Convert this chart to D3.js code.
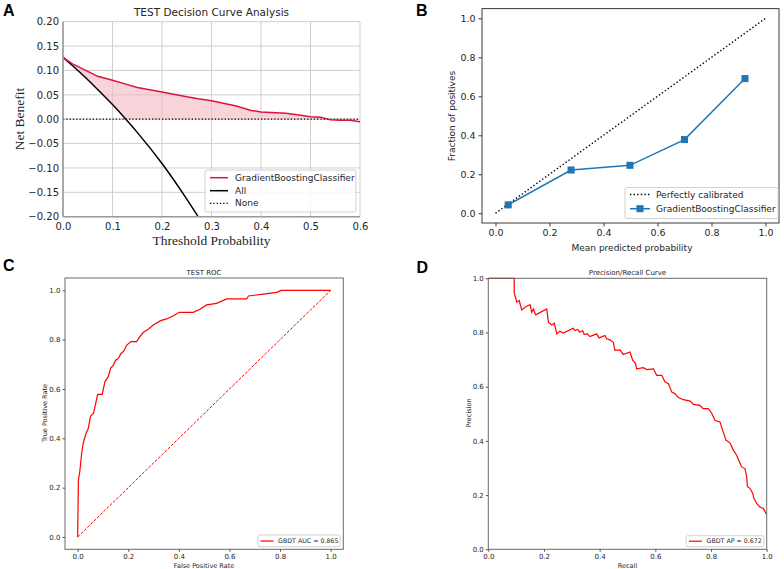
<!DOCTYPE html>
<html>
<head>
<meta charset="utf-8">
<script src="https://cdn.jsdelivr.net/npm/d3@7"></script>
<style>
  body { margin: 0; background: #fff; }
  svg text { font-family: "DejaVu Sans", sans-serif; fill: #262626; }
  .serif { font-family: "Liberation Serif", "Times New Roman", serif !important; }
  .tag { font-family: "Liberation Sans", Arial, sans-serif !important; font-weight: bold; fill: #000 !important; }
</style>
</head>
<body>
<svg id="fig" width="784" height="569"></svg>
<script>
// ---- A: decision curve ----
var dcaThresholds = [0, 0.02, 0.05, 0.07, 0.1, 0.127, 0.15, 0.2, 0.25, 0.273, 0.3, 0.35, 0.38, 0.4, 0.45, 0.48, 0.5, 0.52, 0.54, 0.56, 0.58, 0.6];
var dcaModel = [0.127, 0.113, 0.098, 0.088, 0.080, 0.072, 0.065, 0.056, 0.046, 0.042, 0.038, 0.027, 0.018, 0.015, 0.012, 0.008, 0.005, 0.004, -0.001, -0.002, -0.002, -0.005];
var dcaAll = [0.127, 0.109, 0.081, 0.061, 0.030, 0.0, -0.027, -0.091, -0.164, -0.200, null, null, null, null, null, null, null, null, null, null, null, null];
var dcaNone = [0, 0];
var dcaNoneT = [0, 0.6];
var dcaXTicks = [0, 0.1, 0.2, 0.3, 0.4, 0.5, 0.6];
var dcaYTicks = [-0.2, -0.15, -0.1, -0.05, 0, 0.05, 0.1, 0.15, 0.2];

// ---- B: calibration ----
var calMean = [0.047, 0.280, 0.498, 0.700, 0.924];
var calFrac = [0.043, 0.222, 0.246, 0.378, 0.691];
var unitTicks = [0, 0.2, 0.4, 0.6, 0.8, 1.0];

// ---- C: ROC ----
var rocFpr = [0, 0.003, 0.009, 0.016, 0.022, 0.033, 0.042, 0.051, 0.062, 0.071, 0.079, 0.097, 0.108, 0.121, 0.130, 0.141, 0.150, 0.161, 0.170, 0.183, 0.194, 0.211, 0.233, 0.246, 0.260, 0.279, 0.299, 0.328, 0.352, 0.378, 0.402, 0.457, 0.483, 0.510, 0.549, 0.589, 0.668, 0.675, 0.734, 0.787, 0.804, 1.0];
var rocTpr = [0, 0.23, 0.27, 0.34, 0.38, 0.42, 0.44, 0.49, 0.50, 0.54, 0.578, 0.578, 0.63, 0.65, 0.684, 0.697, 0.717, 0.724, 0.742, 0.755, 0.778, 0.792, 0.792, 0.812, 0.83, 0.842, 0.859, 0.877, 0.884, 0.897, 0.911, 0.911, 0.923, 0.941, 0.947, 0.965, 0.965, 0.977, 0.985, 0.992, 1.0, 1.0];

// ---- D: precision / recall ----
var prRecall = [0, 0.093, 0.093, 0.102, 0.111, 0.12, 0.132, 0.15, 0.156, 0.162, 0.17, 0.21, 0.216, 0.228, 0.237, 0.246, 0.257, 0.269, 0.305, 0.311, 0.321, 0.329, 0.339, 0.344, 0.356, 0.365, 0.389, 0.398, 0.419, 0.425, 0.437, 0.449, 0.455, 0.473, 0.485, 0.509, 0.519, 0.528, 0.533, 0.557, 0.569, 0.593, 0.605, 0.623, 0.635, 0.647, 0.659, 0.671, 0.683, 0.701, 0.725, 0.737, 0.760, 0.772, 0.790, 0.802, 0.814, 0.832, 0.842, 0.854, 0.868, 0.880, 0.892, 0.902, 0.910, 0.922, 0.928, 0.931, 0.940, 0.950, 0.954, 0.964, 0.974, 0.988, 0.994, 1.0];
var prPrecision = [1, 1, 0.948, 0.912, 0.918, 0.883, 0.893, 0.903, 0.875, 0.887, 0.865, 0.887, 0.838, 0.828, 0.834, 0.795, 0.805, 0.798, 0.816, 0.807, 0.811, 0.801, 0.807, 0.793, 0.795, 0.785, 0.795, 0.780, 0.789, 0.777, 0.773, 0.764, 0.734, 0.736, 0.719, 0.728, 0.697, 0.687, 0.666, 0.670, 0.663, 0.666, 0.642, 0.642, 0.617, 0.611, 0.580, 0.574, 0.560, 0.552, 0.547, 0.535, 0.531, 0.519, 0.519, 0.503, 0.476, 0.470, 0.439, 0.402, 0.393, 0.366, 0.347, 0.323, 0.304, 0.298, 0.267, 0.231, 0.225, 0.206, 0.188, 0.169, 0.157, 0.151, 0.139, 0.129];

var svg = d3.select("#fig");
var f1 = d3.format(".1f"), f2 = d3.format(".2f");

function zip(xs, ys) {
    return xs.map(function(v, i){ return {x: v, y: ys[i]}; });
}

// draw a legend box; rows = [{label, draw(g, y)}]
function legend(box, rows, fs) {
    var g = svg.append("g");
    g.append("rect")
        .attr("x", box[0]).attr("y", box[1])
        .attr("width", box[2]).attr("height", box[3])
        .attr("rx", 2)
        .attr("fill", "#fff").attr("fill-opacity", 0.85)
        .attr("stroke", "#d0d0d0");
    rows.forEach(function(r){
        r.draw(g, r.y);
        g.append("text").attr("x", r.tx).attr("y", r.y)
            .attr("dy", "0.35em").style("font-size", fs + "px").text(r.label);
    });
}

// ================= A =================
(function(){
    var x = d3.scaleLinear().domain([0, 0.6]).range([63, 360]);
    var y = d3.scaleLinear().domain([-0.2, 0.2]).range([216.7, 21.7]);
    var g = svg.append("g");

    g.append("clipPath").attr("id", "clipA").append("rect")
        .attr("x", 63).attr("y", 21.7).attr("width", 297).attr("height", 195);

    // grid
    g.append("g").selectAll("line").data(dcaXTicks).enter().append("line")
        .attr("x1", x).attr("x2", x).attr("y1", 21.7).attr("y2", 216.7)
        .attr("stroke", "#cfcfcf").attr("stroke-width", 1);
    g.append("g").selectAll("line").data(dcaYTicks).enter().append("line")
        .attr("y1", y).attr("y2", y).attr("x1", 63).attr("x2", 360)
        .attr("stroke", "#cfcfcf").attr("stroke-width", 1);

    var pts = dcaThresholds.map(function(t, i){
        var lo = dcaAll[i] == null ? 0 : Math.max(dcaAll[i], 0);
        return {t: t, m: dcaModel[i], a: dcaAll[i], lo: lo};
    });

    var area = d3.area()
        .defined(function(d){ return d.m >= d.lo; })
        .x(function(d){ return x(d.t); })
        .y0(function(d){ return y(d.lo); })
        .y1(function(d){ return y(d.m); });
    g.append("path").datum(pts).attr("d", area)
        .attr("fill", "#f4b6c2").attr("fill-opacity", 0.6);

    var cg = g.append("g").attr("clip-path", "url(#clipA)");
    cg.append("path").datum(zip(dcaNoneT, dcaNone))
        .attr("d", d3.line().x(function(d){ return x(d.x); }).y(function(d){ return y(d.y); }))
        .attr("stroke", "#000").attr("stroke-width", 1.3).attr("stroke-dasharray", "1.3,2")
        .attr("fill", "none");
    cg.append("path").datum(pts.filter(function(d){ return d.a != null; }))
        .attr("d", d3.line().x(function(d){ return x(d.t); }).y(function(d){ return y(d.a); }).curve(d3.curveMonotoneX))
        .attr("stroke", "#000").attr("stroke-width", 1.5).attr("fill", "none");
    cg.append("path").datum(pts)
        .attr("d", d3.line().x(function(d){ return x(d.t); }).y(function(d){ return y(d.m); }))
        .attr("stroke", "#dc143c").attr("stroke-width", 1.5).attr("fill", "none");

    // spines
    g.append("line").attr("x1", 63).attr("x2", 63).attr("y1", 21.7).attr("y2", 216.7)
        .attr("stroke", "#9a9a9a").attr("stroke-width", 1.6);
    g.append("line").attr("x1", 63).attr("x2", 360).attr("y1", 216.7).attr("y2", 216.7)
        .attr("stroke", "#9a9a9a").attr("stroke-width", 1.6);

    var ax = g.append("g").attr("transform", "translate(0,216.7)")
        .call(d3.axisBottom(x).tickValues(dcaXTicks).tickFormat(f1).tickSize(0).tickPadding(6));
    var ay = g.append("g").attr("transform", "translate(63,0)")
        .call(d3.axisLeft(y).tickValues(dcaYTicks).tickFormat(f2).tickSize(0).tickPadding(4));
    [ax, ay].forEach(function(a){
        a.select(".domain").remove();
        a.selectAll("text").style("font-size", "10px").attr("fill", "#262626");
    });

    g.append("text").attr("x", 211.5).attr("y", 16).attr("text-anchor", "middle")
        .style("font-size", "10.5px").text("TEST Decision Curve Analysis");
    g.append("text").attr("class", "serif").attr("x", 211.5).attr("y", 245)
        .attr("text-anchor", "middle").style("font-size", "13.5px").text("Threshold Probability");
    g.append("text").attr("class", "serif")
        .attr("transform", "translate(24,119) rotate(-90)")
        .attr("text-anchor", "middle").style("font-size", "13.5px").text("Net Benefit");

    legend([205, 170, 151, 42], [
        {label: "GradientBoostingClassifier", y: 177.7, tx: 235, draw: function(lg, yy){
            lg.append("line").attr("x1", 210).attr("x2", 228).attr("y1", yy).attr("y2", yy)
                .attr("stroke", "#dc143c").attr("stroke-width", 1.5); }},
        {label: "All", y: 190.7, tx: 235, draw: function(lg, yy){
            lg.append("line").attr("x1", 210).attr("x2", 228).attr("y1", yy).attr("y2", yy)
                .attr("stroke", "#000").attr("stroke-width", 1.5); }},
        {label: "None", y: 203.3, tx: 235, draw: function(lg, yy){
            lg.append("line").attr("x1", 210).attr("x2", 228).attr("y1", yy).attr("y2", yy)
                .attr("stroke", "#000").attr("stroke-width", 1.3).attr("stroke-dasharray", "1.3,2"); }}
    ], 9);
})();

// ================= B =================
(function(){
    var x = d3.scaleLinear().domain([-0.05, 1.05]).range([482, 779]);
    var y = d3.scaleLinear().domain([-0.05, 1.05]).range([223, 8.6]);
    var g = svg.append("g");

    g.append("path").datum(zip([0, 1], [0, 1]))
        .attr("d", d3.line().x(function(d){ return x(d.x); }).y(function(d){ return y(d.y); }))
        .attr("stroke", "#000").attr("stroke-width", 1.4).attr("stroke-dasharray", "1.4,2.2")
        .attr("fill", "none");

    var cal = zip(calMean, calFrac);
    g.append("path").datum(cal)
        .attr("d", d3.line().x(function(d){ return x(d.x); }).y(function(d){ return y(d.y); }))
        .attr("stroke", "#1f77b4").attr("stroke-width", 1.5).attr("fill", "none");
    g.selectAll(".sq").data(cal).enter().append("path")
        .attr("d", d3.symbol(d3.symbolSquare, 50))
        .attr("transform", function(d){ return "translate(" + x(d.x) + "," + y(d.y) + ")"; })
        .attr("fill", "#1f77b4");

    g.append("rect").attr("x", 482).attr("y", 8.6).attr("width", 297).attr("height", 214.4)
        .attr("fill", "none").attr("stroke", "#3a3a3a").attr("stroke-width", 1);

    var ax = g.append("g").attr("transform", "translate(0,223)")
        .call(d3.axisBottom(x).tickValues(unitTicks).tickFormat(f1).tickSize(3.5).tickPadding(3));
    var ay = g.append("g").attr("transform", "translate(482,0)")
        .call(d3.axisLeft(y).tickValues(unitTicks).tickFormat(f1).tickSize(3.5).tickPadding(3));
    [ax, ay].forEach(function(a){
        a.select(".domain").remove();
        a.selectAll("line").attr("stroke", "#3a3a3a");
        a.selectAll("text").style("font-size", "9.5px").attr("fill", "#262626");
    });

    g.append("text").attr("x", 632).attr("y", 251).attr("text-anchor", "middle")
        .style("font-size", "9px").text("Mean predicted probability");
    g.append("text").attr("transform", "translate(455,116) rotate(-90)")
        .attr("text-anchor", "middle").style("font-size", "9px").text("Fraction of positives");

    legend([625, 187.5, 153, 31], [
        {label: "Perfectly calibrated", y: 194.5, tx: 656, draw: function(lg, yy){
            lg.append("line").attr("x1", 630).attr("x2", 650).attr("y1", yy).attr("y2", yy)
                .attr("stroke", "#000").attr("stroke-width", 1.4).attr("stroke-dasharray", "1.4,2.2"); }},
        {label: "GradientBoostingClassifier", y: 208.7, tx: 656, draw: function(lg, yy){
            lg.append("line").attr("x1", 630).attr("x2", 650).attr("y1", yy).attr("y2", yy)
                .attr("stroke", "#1f77b4").attr("stroke-width", 1.5);
            lg.append("path").attr("d", d3.symbol(d3.symbolSquare, 50))
                .attr("transform", "translate(640," + yy + ")").attr("fill", "#1f77b4"); }}
    ], 9);
})();

// small matplotlib-style panels C and D
function smallAxes(g, x, y, frame) {
    g.append("rect").attr("x", frame[0]).attr("y", frame[1])
        .attr("width", frame[2] - frame[0]).attr("height", frame[3] - frame[1])
        .attr("fill", "none").attr("stroke", "#6a6a6a").attr("stroke-width", 1);
    var ax = g.append("g").attr("transform", "translate(0," + frame[3] + ")")
        .call(d3.axisBottom(x).tickValues(unitTicks).tickFormat(f1).tickSize(2.5).tickPadding(2));
    var ay = g.append("g").attr("transform", "translate(" + frame[0] + ",0)")
        .call(d3.axisLeft(y).tickValues(unitTicks).tickFormat(f1).tickSize(2.5).tickPadding(2));
    [ax, ay].forEach(function(a){
        a.select(".domain").remove();
        a.selectAll("line").attr("stroke", "#555");
        a.selectAll("text").style("font-size", "7px").attr("fill", "#333");
    });
}

// ================= C =================
(function(){
    var frame = [65, 278, 343.3, 549.3];
    var x = d3.scaleLinear().domain([-0.05, 1.05]).range([65, 343.3]);
    var y = d3.scaleLinear().domain([-0.05, 1.05]).range([549.3, 278]);
    var g = svg.append("g");
    var line = d3.line().x(function(d){ return x(d.x); }).y(function(d){ return y(d.y); });

    g.append("path").datum(zip([0, 1], [0, 1])).attr("d", line)
        .attr("stroke", "#ff0000").attr("stroke-width", 1).attr("stroke-dasharray", "3,1.5")
        .attr("fill", "none");
    g.append("path").datum(zip(rocFpr, rocTpr)).attr("d", line)
        .attr("stroke", "#ff0000").attr("stroke-width", 1.2).attr("fill", "none");

    smallAxes(g, x, y, frame);

    g.append("text").attr("x", 204).attr("y", 275).attr("text-anchor", "middle")
        .style("font-size", "7px").text("TEST ROC");
    g.append("text").attr("x", 204).attr("y", 567.5).attr("text-anchor", "middle")
        .style("font-size", "6.5px").text("False Positive Rate");
    g.append("text").attr("transform", "translate(47,413) rotate(-90)")
        .attr("text-anchor", "middle").style("font-size", "6.5px").text("True Positive Rate");

    legend([258, 535, 82, 11.7], [
        {label: "GBDT AUC = 0.865", y: 541, tx: 278, draw: function(lg, yy){
            lg.append("line").attr("x1", 260.5).attr("x2", 273.5).attr("y1", yy).attr("y2", yy)
                .attr("stroke", "#ff0000").attr("stroke-width", 1.2); }}
    ], 6.3);
})();

// ================= D =================
(function(){
    var frame = [488.3, 278.3, 766.7, 549.3];
    var x = d3.scaleLinear().domain([0, 1]).range([488.3, 766.7]);
    var y = d3.scaleLinear().domain([0, 1]).range([549.3, 278.3]);
    var g = svg.append("g");
    var line = d3.line().x(function(d){ return x(d.x); }).y(function(d){ return y(d.y); });

    g.append("path").datum(zip(prRecall, prPrecision)).attr("d", line)
        .attr("stroke", "#ff0000").attr("stroke-width", 1.2).attr("fill", "none");

    smallAxes(g, x, y, frame);

    g.append("text").attr("x", 627.5).attr("y", 275).attr("text-anchor", "middle")
        .style("font-size", "7px").text("Precision/Recall Curve");
    g.append("text").attr("x", 627.5).attr("y", 567.5).attr("text-anchor", "middle")
        .style("font-size", "6.5px").text("Recall");
    g.append("text").attr("transform", "translate(470.5,413) rotate(-90)")
        .attr("text-anchor", "middle").style("font-size", "6.5px").text("Precision");

    legend([686, 535.7, 78, 11], [
        {label: "GBDT AP = 0.672", y: 541.2, tx: 706.5, draw: function(lg, yy){
            lg.append("line").attr("x1", 689).attr("x2", 702).attr("y1", yy).attr("y2", yy)
                .attr("stroke", "#ff0000").attr("stroke-width", 1.2); }}
    ], 6.3);
})();

// panel tags
[["A", 3, 16], ["B", 416, 16], ["C", 3, 270.5], ["D", 416.5, 272.5]].forEach(function(t){
    svg.append("text").attr("class", "tag").attr("x", t[1]).attr("y", t[2])
        .style("font-size", "16px").text(t[0]);
});
</script>
</body>
</html>
